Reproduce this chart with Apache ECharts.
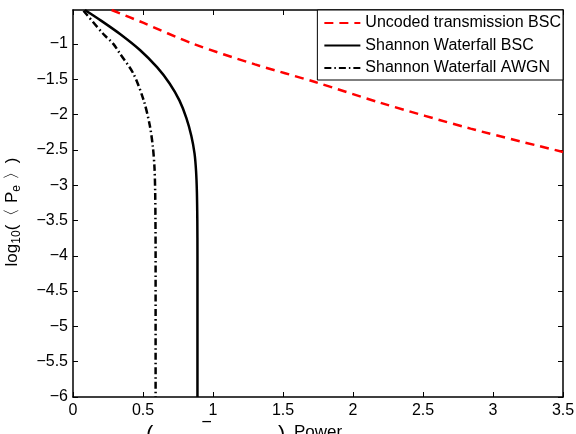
<!DOCTYPE html>
<html>
<head>
<meta charset="utf-8">
<script src="https://cdn.jsdelivr.net/npm/echarts@6/dist/echarts.min.js"></script>
<style>
html,body{margin:0;padding:0;background:#fff;}
#chart{width:576px;height:434px;}
</style>
</head>
<body>
<div id="chart"></div>
<script>
// Data
const seriesNames = ['Uncoded transmission BSC', 'Shannon Waterfall BSC', 'Shannon Waterfall AWGN'];
const uncodedX = [0.276, 0.5, 0.86, 1.3, 1.73, 2.19, 2.84, 3.5];
const uncodedY = [-0.52, -0.70, -1.0, -1.29, -1.54, -1.83, -2.20, -2.53];
const bscX = [0.085, 0.2, 0.336, 0.48, 0.6, 0.69, 0.76, 0.81, 0.845, 0.868, 0.879, 0.885, 0.888, 0.889, 0.889];
const bscY = [-0.52, -0.67, -0.86, -1.09, -1.33, -1.56, -1.80, -2.05, -2.30, -2.55, -2.80, -3.10, -3.50, -4.0, -6.0];
const awgnX = [0.075, 0.217, 0.288, 0.336, 0.431, 0.505, 0.548, 0.57, 0.582, 0.587, 0.589, 0.59, 0.59];
const awgnY = [-0.53, -0.86, -1.0, -1.14, -1.42, -1.80, -2.15, -2.45, -2.75, -3.10, -3.50, -4.0, -6.0];
const xTicks = [0, 0.5, 1, 1.5, 2, 2.5, 3, 3.5];
const yTicks = [-6, -5.5, -5, -4.5, -4, -3.5, -3, -2.5, -2, -1.5, -1];
const xLabel = 'Power';

const zip = (xs, ys) => xs.map((x, i) => [x, ys[i]]);
const FONT = 'Liberation Sans, Arial, Helvetica, sans-serif';

const chart = echarts.init(document.getElementById('chart'), null, {renderer: 'canvas'});

const baseAxisLine = {show: true, onZero: false, lineStyle: {color: '#000', width: 1.5}};
const baseTick = {show: true, inside: true, length: 5, lineStyle: {color: '#000', width: 1}};

const option = {
  animation: false,
  backgroundColor: '#fff',
  grid: {left: 73, right: 13, top: 10, bottom: 37, show: false, containLabel: false, outerBoundsMode: 'none'},
  xAxis: [
    {
      type: 'value', position: 'bottom', min: xTicks[0], max: xTicks[xTicks.length - 1], interval: 0.5,
      axisLine: baseAxisLine, axisTick: baseTick, splitLine: {show: false},
      axisLabel: {color: '#000', fontSize: 16, fontFamily: FONT, margin: 6,
        formatter: v => String(v)},
      name: xLabel, nameLocation: 'middle', nameGap: 25,
      nameTextStyle: {color: '#000', fontSize: 17, fontFamily: FONT, verticalAlign: 'top'}
    },
    {
      type: 'value', position: 'top', min: xTicks[0], max: xTicks[xTicks.length - 1], interval: 0.5,
      axisLine: baseAxisLine, axisTick: baseTick, axisLabel: {show: false}, splitLine: {show: false}
    }
  ],
  yAxis: [
    {
      type: 'value', position: 'left', min: yTicks[0], max: -0.52, interval: 0.5,
      axisLine: baseAxisLine, axisTick: baseTick, splitLine: {show: false},
      axisLabel: {color: '#000', fontSize: 16, fontFamily: FONT, margin: 5, showMaxLabel: false,
        formatter: v => (yTicks.indexOf(v) >= 0 ? String(v).replace('-', '\u2212') : '')}
    },
    {
      type: 'value', position: 'right', min: yTicks[0], max: -0.52, interval: 0.5,
      axisLine: baseAxisLine, axisTick: baseTick, axisLabel: {show: false}, splitLine: {show: false}
    }
  ],
  legend: {
    orient: 'vertical', right: 13, top: 10,
    data: seriesNames,
    backgroundColor: '#fff', borderColor: '#000', borderWidth: 1,
    padding: [5, 2, 4, 6],
    itemWidth: 36, itemHeight: 14, itemGap: 6.5,
    itemStyle: {opacity: 0},
    textStyle: {color: '#000', fontSize: 16, fontFamily: FONT, lineHeight: 16}
  },
  graphic: [
    {
      type: 'text', x: 12, y: 212, rotation: Math.PI / 2,
      style: {
        text: '{n|log}{s|10}{n|(\u3008 P}{s|e}{n| \u3009)}',
        align: 'center', verticalAlign: 'middle',
        rich: {
          n: {fontSize: 17, fontFamily: FONT, fill: '#000'},
          s: {fontSize: 12, fontFamily: FONT, fill: '#000', padding: [10, 0, 0, 0]}
        }
      }
    },
    {type: 'text', x: 146, y: 424, style: {text: '(', fontSize: 22, fontFamily: FONT, fill: '#000'}},
    {type: 'text', x: 203, y: 422, style: {text: '\u203E', fontSize: 22, fontFamily: FONT, fill: '#000'}},
    {type: 'text', x: 278, y: 424, style: {text: ')', fontSize: 22, fontFamily: FONT, fill: '#000'}}
  ],
  series: [
    {
      name: seriesNames[0], type: 'line', data: zip(uncodedX, uncodedY), xAxisIndex: 0, yAxisIndex: 0,
      showSymbol: false, symbol: 'none', smooth: 0.3, clip: true,
      lineStyle: {color: '#ff0000', width: 2.5, type: [9, 6]},
      itemStyle: {color: '#ff0000'}
    },
    {
      name: seriesNames[1], type: 'line', data: zip(bscX, bscY), xAxisIndex: 0, yAxisIndex: 0,
      showSymbol: false, symbol: 'none', smooth: 0.3, clip: true,
      lineStyle: {color: '#000', width: 2.5, type: 'solid'},
      itemStyle: {color: '#000'}
    },
    {
      name: seriesNames[2], type: 'line', data: zip(awgnX, awgnY), xAxisIndex: 0, yAxisIndex: 0,
      showSymbol: false, symbol: 'none', smooth: 0.3, clip: true,
      lineStyle: {color: '#000', width: 2.5, type: [7, 3, 1.5, 3]},
      itemStyle: {color: '#000'}
    }
  ]
};
chart.setOption(option);
</script>
</body>
</html>
